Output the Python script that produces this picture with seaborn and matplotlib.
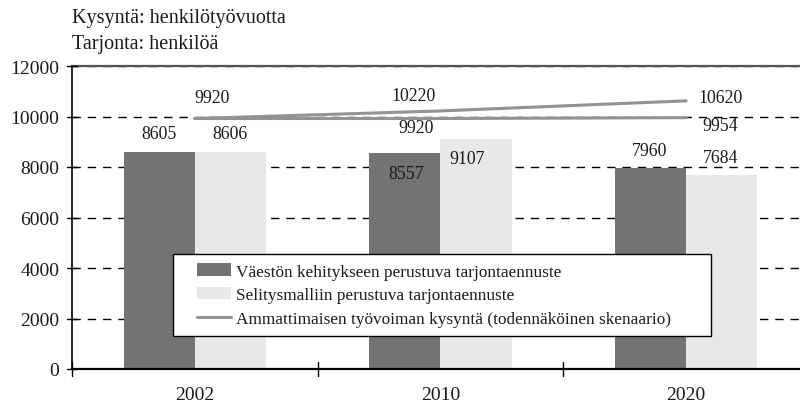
import matplotlib
matplotlib.use("Agg")
import matplotlib.pyplot as plt
import seaborn as sns
import pandas as pd
from matplotlib.patches import Patch, Rectangle
from matplotlib.lines import Line2D

years = ["2002", "2010", "2020"]
supply_pop = [8605, 8557, 7960]
supply_model = [8606, 9107, 7684]
demand = [9920, 10220, 10620]
demand_low = [9920, 9920, 9954]
series_names = ["Väestön kehitykseen perustuva tarjontaennuste",
                "Selitysmalliin perustuva tarjontaennuste",
                "Ammattimaisen työvoiman kysyntä (todennäköinen skenaario)"]
yticks = [0, 2000, 4000, 6000, 8000, 10000, 12000]

DARK = "#737373"
LIGHT = "#e8e8e8"
LINE = "#939393"
TXT = "#1a1a1a"

sns.set_theme(style="white")
plt.rcParams["font.family"] = ["Liberation Serif", "DejaVu Serif"]

df = pd.DataFrame({
    "year": years * 2,
    "value": supply_pop + supply_model,
    "series": [series_names[0]] * 3 + [series_names[1]] * 3,
})

fig = plt.figure(figsize=(8, 4.1), dpi=100)
ax = fig.add_axes([72 / 800, 1 - 370 / 410, 1 - 72 / 800, (370 - 67) / 410])

for y in yticks[1:]:
    ax.axhline(y, color="black", lw=1.0, ls=(0, (6, 5)), zorder=0.5)

sns.barplot(data=df, x="year", y="value", hue="series", order=years,
            hue_order=series_names[:2], palette=[DARK, LIGHT],
            width=0.58, gap=0, saturation=1, legend=False, ax=ax, zorder=1,
            edgecolor="none", linewidth=0)

xs = list(range(len(years)))
sns.lineplot(x=xs, y=demand, color=LINE, lw=2.2, ax=ax, zorder=3, legend=False)
sns.lineplot(x=xs, y=demand_low, color=LINE, lw=2.2, ax=ax, zorder=3, legend=False)

ax.set_xlim(-0.5, 2.464)
ax.set_ylim(0, 12000)
ax.set_yticks(yticks)
ax.set_yticklabels([str(v) for v in yticks], fontsize=14, color=TXT)
ax.set_xticks(xs)
ax.set_xticklabels(years, fontsize=14, color=TXT)
ax.set_xlabel("")
ax.set_ylabel("")
ax.tick_params(axis="x", length=0, pad=12)
ax.tick_params(axis="y", length=0, pad=9)

# boundary ticks crossing the x axis
for b in [-0.5, 0.5, 1.5]:
    ax.plot([b, b], [-280, 280], color="black", lw=1, clip_on=False, zorder=5)
for y in yticks:
    ax.plot([-0.5 - 0.02, -0.5 + 0.02], [y, y], color="black", lw=1,
            clip_on=False, zorder=5)

ax.spines["right"].set_visible(False)
ax.spines["left"].set_color("black")
ax.spines["left"].set_linewidth(1.2)
ax.spines["bottom"].set_color("black")
ax.spines["bottom"].set_linewidth(1.6)
ax.spines["top"].set_color("#555555")
ax.spines["top"].set_linewidth(1.6)

# data labels (values from data arrays, offsets only for placement)
lab_kw = dict(ha="center", va="center", fontsize=12.8, color=TXT, zorder=6)
bar_pop_pos = [(-0.145, 9307), (1 - 0.14, 7723), (2 - 0.147, 8634)]
bar_mod_pos = [(0.145, 9307), (1 + 0.11, 8317), (2 + 0.14, 8396)]
dem_pos = [(0.07, 10772), (0.89, 10812), (2 + 0.14, 10733)]
low_pos = [None, (0.9, 9584), (2 + 0.14, 9663)]
for i in range(3):
    ax.text(*bar_pop_pos[i], f"{supply_pop[i]}", **lab_kw)
    ax.text(*bar_mod_pos[i], f"{supply_model[i]}", **lab_kw)
    ax.text(*dem_pos[i], f"{demand[i]}", **lab_kw)
    if low_pos[i] is not None:
        ax.text(*low_pos[i], f"{demand_low[i]}", **lab_kw)

# legend box
box = Rectangle((173 / 800, 1 - 337 / 410), (711 - 173) / 800, (337 - 255) / 410,
                transform=fig.transFigure, facecolor="white", edgecolor="black",
                lw=1.0, zorder=9)
fig.add_artist(box)
handles = [Patch(facecolor=DARK, edgecolor="none"),
           Patch(facecolor=LIGHT, edgecolor="none"),
           Line2D([0], [0], color=LINE, lw=2.2)]
leg = fig.legend(handles, series_names, loc="center left",
                 bbox_to_anchor=(197 / 800, 1 - 296 / 410), fontsize=12.4,
                 frameon=False, borderpad=0, labelspacing=0.42,
                 handlelength=1.95, handleheight=0.75, handletextpad=0.3,
                 borderaxespad=0)
for t in leg.get_texts():
    t.set_color(TXT)
leg.set_zorder(10)

fig.text(72 / 800, 1 - 18 / 410, "Kysyntä: henkilötyövuotta", fontsize=14.5,
         va="center", ha="left", color=TXT)
fig.text(72 / 800, 1 - 45 / 410, "Tarjonta: henkilöä", fontsize=14.5,
         va="center", ha="left", color=TXT)

fig.savefig("out.png", dpi=100)
